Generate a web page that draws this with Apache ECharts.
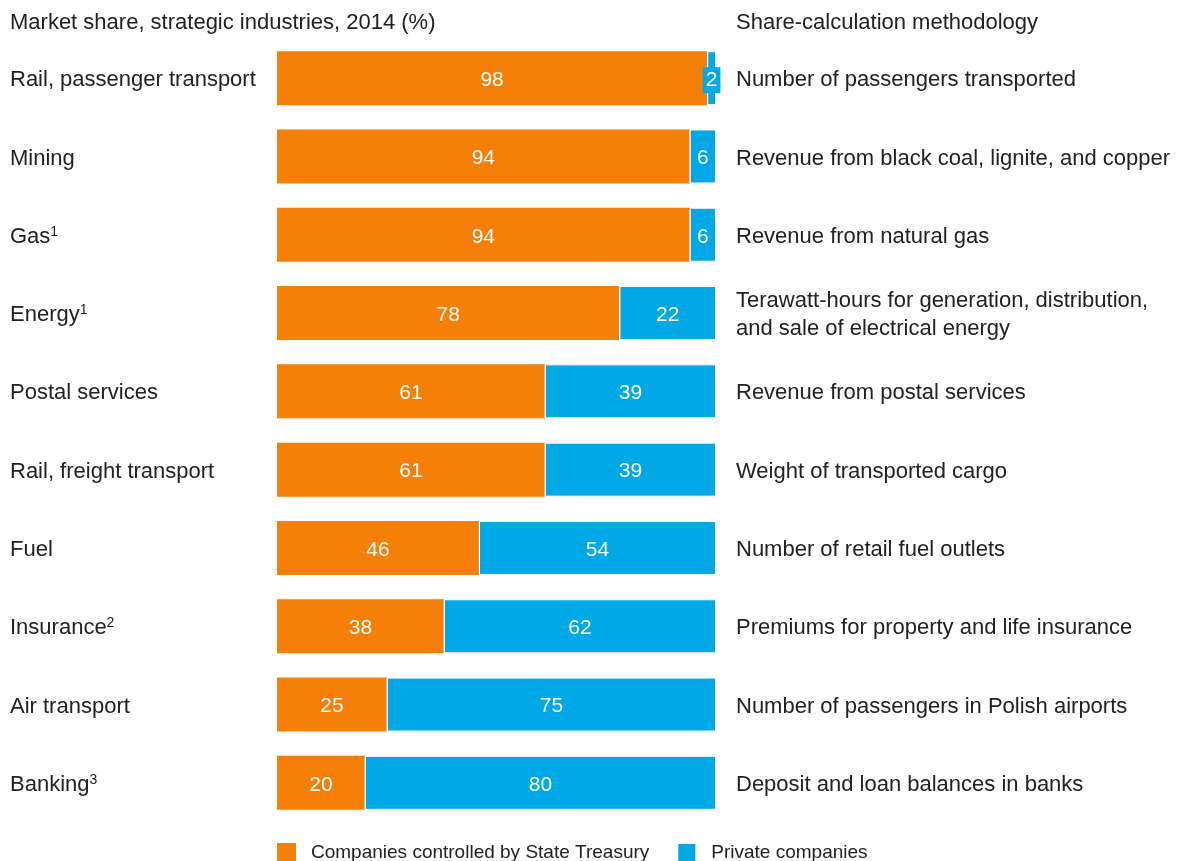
<!DOCTYPE html>
<html><head><meta charset="utf-8">
<script src="https://cdn.jsdelivr.net/npm/echarts@6/dist/echarts.min.js"></script>
<style>html,body{margin:0;padding:0;background:#fff}#c{width:1178px;height:861px}</style>
</head><body><div id="c"></div>
<script>
const categories = ['Rail, passenger transport','Mining','Gas','Energy','Postal services','Rail, freight transport','Fuel','Insurance','Air transport','Banking'];
const footnotes = ['','','1','1','','','','2','','3'];
const methodology = ['Number of passengers transported','Revenue from black coal, lignite, and copper','Revenue from natural gas','Terawatt-hours for generation, distribution,\nand sale of electrical energy','Revenue from postal services','Weight of transported cargo','Number of retail fuel outlets','Premiums for property and life insurance','Number of passengers in Polish airports','Deposit and loan balances in banks'];
const stateShare = [98,94,94,78,61,61,46,38,25,20];
const privateShare = [2,6,6,22,39,39,54,62,75,80];

const ORANGE = '#F57F07', BLUE = '#00A9E6', TXT = '#222';
const FONT = 'Liberation Sans';
const chart = echarts.init(document.getElementById('c'));
chart.setOption({
  animation:false,
  textStyle:{fontFamily:FONT},
  graphic:[
    {type:'text',left:10,top:12,style:{text:'Market share, strategic industries, 2014 (%)',fontSize:22,fill:TXT,fontFamily:FONT}},
    {type:'text',left:736,top:12,style:{text:'Share-calculation methodology',fontSize:22,fill:TXT,fontFamily:FONT}}
  ],
  legend:{top:837,left:272,itemWidth:19,itemHeight:19,itemGap:27,icon:'rect',
    textStyle:{fontSize:19,color:TXT,fontFamily:FONT,padding:[0,0,0,10]},
    data:['Companies controlled by State Treasury','Private companies']},
  grid:[{left:277,right:462,top:39,height:783},{left:277,right:462,top:41,height:783}],
  xAxis:[{type:'value',min:0,max:100,show:false,gridIndex:0},{type:'value',min:0,max:100,show:false,gridIndex:1}],
  yAxis:[
    {type:'category',gridIndex:0,data:categories,inverse:true,show:false},
    {type:'category',gridIndex:1,data:categories,inverse:true,axisLine:{show:false},axisTick:{show:false},
      axisLabel:{align:'left',margin:267,fontSize:22,color:TXT,
        formatter:(v,i)=>{const f=footnotes[i];return f?v+'{sup|'+f+'}':v;},
        rich:{sup:{fontSize:14,color:TXT,padding:[0,0,10,0],verticalAlign:'bottom'}}}},
    {type:'category',gridIndex:1,data:methodology,inverse:true,position:'right',axisLine:{show:false},axisTick:{show:false},
      axisLabel:{align:'left',margin:20,fontSize:22,color:TXT,lineHeight:28}}
  ],
  series:[
    {name:'Companies controlled by State Treasury',type:'bar',stack:'s',barWidth:54,data:stateShare,
      itemStyle:{color:ORANGE},
      label:{show:true,position:'inside',color:'#fff',fontSize:21,fontFamily:FONT,offset:[0,2]}},
    {name:'Private companies',type:'bar',stack:'s',barWidth:54,data:privateShare,
      itemStyle:{color:BLUE,borderColor:'#fff',borderWidth:1},
      label:{show:true,position:'inside',color:'#fff',fontSize:21,fontFamily:FONT,offset:[0,2],backgroundColor:BLUE,padding:[3,3,2,3]}}
  ]
});
</script></body></html>
